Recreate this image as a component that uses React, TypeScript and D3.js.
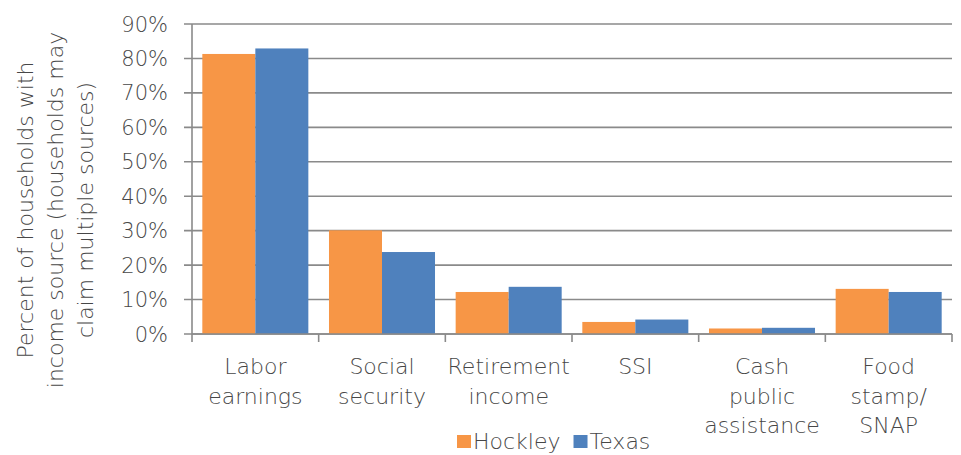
import React, { useEffect, useRef } from 'react'
import * as d3 from 'd3'

const categories = ['Labor\nearnings', 'Social\nsecurity', 'Retirement\nincome', 'SSI', 'Cash\npublic\nassistance', 'Food\nstamp/\nSNAP']
const seriesNames = ['Hockley', 'Texas']
const hockley = [0.813, 0.301, 0.122, 0.035, 0.016, 0.131]
const texas = [0.829, 0.238, 0.137, 0.042, 0.018, 0.122]
const yTicks = [0, 0.1, 0.2, 0.3, 0.4, 0.5, 0.6, 0.7, 0.8, 0.9]
const yTitle = ['Percent of households with', 'income source (households may', 'claim multiple sources)']

const colors = ['#F79646', '#4F81BD']
const width = 961
const height = 455
const margin = { top: 24, left: 192, right: 9, bottom: 121 }
const font = '"DejaVu Sans", sans-serif'
const textColor = '#474747'
const gridColor = '#8a8a8a'

export default function App() {
  const ref = useRef<SVGSVGElement>(null)

  useEffect(() => {
    const svg = d3.select(ref.current)
    svg.selectAll('*').remove()

    const x0 = d3.scaleBand<string>()
      .domain(categories)
      .range([margin.left, width - margin.right])
      .paddingInner(0.163)
      .paddingOuter(0.0815)
    const x1 = d3.scaleBand<string>().domain(seriesNames).range([0, x0.bandwidth()])
    const y = d3.scaleLinear().domain([0, 0.9]).range([height - margin.bottom, margin.top])

    // gridlines
    svg.append('g')
      .selectAll('line')
      .data(yTicks)
      .join('line')
      .attr('x1', margin.left - 8)
      .attr('x2', width - margin.right)
      .attr('y1', d => y(d))
      .attr('y2', d => y(d))
      .attr('stroke', gridColor)
      .attr('stroke-width', 1.6)

    // bars
    const data = categories.map((c, i) => ({ cat: c, vals: [hockley[i], texas[i]] }))
    svg.append('g')
      .selectAll('g')
      .data(data)
      .join('g')
      .attr('transform', d => `translate(${x0(d.cat)},0)`)
      .selectAll('rect')
      .data(d => d.vals.map((v, j) => ({ name: seriesNames[j], v, j })))
      .join('rect')
      .attr('x', d => x1(d.name)!)
      .attr('width', x1.bandwidth())
      .attr('y', d => y(d.v))
      .attr('height', d => y(0) - y(d.v))
      .attr('fill', d => colors[d.j])

    // y axis line
    svg.append('line')
      .attr('x1', margin.left).attr('x2', margin.left)
      .attr('y1', y(0.9)).attr('y2', y(0))
      .attr('stroke', gridColor).attr('stroke-width', 1.6)

    // x axis line + ticks at category boundaries
    const step = x0.step()
    const start = x0.range()[0]
    svg.append('line')
      .attr('x1', margin.left).attr('x2', width - margin.right)
      .attr('y1', y(0)).attr('y2', y(0))
      .attr('stroke', gridColor).attr('stroke-width', 1.6)
    svg.append('g')
      .selectAll('line')
      .data(d3.range(categories.length + 1))
      .join('line')
      .attr('x1', i => start + i * step)
      .attr('x2', i => start + i * step)
      .attr('y1', y(0))
      .attr('y2', y(0) + 8)
      .attr('stroke', gridColor)
      .attr('stroke-width', 1.6)

    // y tick labels
    svg.append('g')
      .attr('font-family', font)
      .attr('font-size', 21)
      .attr('font-weight', 200)
      .attr('fill', textColor)
      .attr('text-anchor', 'end')
      .selectAll('text')
      .data(yTicks)
      .join('text')
      .attr('x', margin.left - 24)
      .attr('y', d => y(d))
      .attr('dy', '0.36em')
      .text(d => d3.format('.0%')(d))

    // x labels
    svg.append('g')
      .attr('font-family', font)
      .attr('font-size', 22)
      .attr('font-weight', 200)
      .attr('fill', textColor)
      .attr('text-anchor', 'middle')
      .selectAll('text')
      .data(categories)
      .join('text')
      .attr('transform', d => `translate(${x0(d)! + x0.bandwidth() / 2},374)`)
      .selectAll('tspan')
      .data(d => d.split('\n'))
      .join('tspan')
      .attr('x', 0)
      .attr('y', (_, i) => i * 29.5)
      .text(d => d)

    // y title
    svg.append('g')
      .attr('transform', 'translate(33,210) rotate(-90)')
      .attr('font-family', font)
      .attr('font-size', 22)
      .attr('font-weight', 200)
      .attr('fill', textColor)
      .attr('text-anchor', 'middle')
      .selectAll('text')
      .data(yTitle)
      .join('text')
      .attr('x', 0)
      .attr('y', (_, i) => i * 30)
      .text(d => d)

    // legend
    const legend = svg.append('g')
      .attr('font-family', font)
      .attr('font-size', 22)
      .attr('font-weight', 200)
      .attr('fill', textColor)
    let lx = 457
    seriesNames.forEach((name, i) => {
      legend.append('rect')
        .attr('x', lx).attr('y', 435).attr('width', 14).attr('height', 13)
        .attr('fill', colors[i])
      const t = legend.append('text').attr('x', lx + 16).attr('y', 449).text(name)
      const w = (t.node() as SVGTextElement).getComputedTextLength()
      lx += 16 + w + 13
    })
  }, [])

  return (
    <div style={{ position: 'fixed', left: 0, top: 0 }}>
      <svg ref={ref} width={width} height={height} style={{ display: 'block', background: '#fff' }} />
    </div>
  )
}
